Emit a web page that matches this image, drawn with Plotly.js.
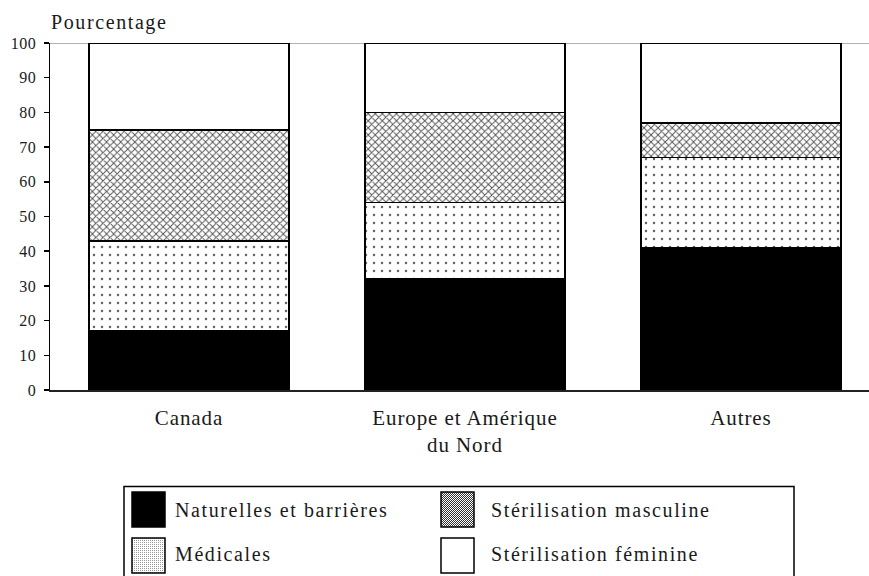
<!DOCTYPE html>
<html>
<head>
<meta charset="utf-8">
<script src="https://cdn.plot.ly/plotly-3.0.1.min.js"></script>
<style>
  html, body { margin: 0; padding: 0; background: #fff; }
  #chart { width: 869px; height: 576px; }
  text.annotation-text { letter-spacing: 1.6px; }
  .xtick text { letter-spacing: 0.9px; }
  .ytick text { letter-spacing: 0.5px; }
</style>
</head>
<body>
<div id="chart"></div>
<script>
// ---- data ----
const categories = ["Canada", "Europe et Amérique<br>du Nord", "Autres"];
const naturelles = [17, 32, 41];
const medicales = [26, 22, 26];
const sterMasculine = [32, 26, 10];
const sterFeminine = [25, 20, 23];
const seriesNames = ["Naturelles et barrières", "Médicales", "Stérilisation masculine", "Stérilisation féminine"];
const yTicks = [0, 10, 20, 30, 40, 50, 60, 70, 80, 90, 100];

// ---- styling helpers ----
const FONT = 'Liberation Serif, serif';
const INK = '#1a1a1a';
const W = 869, H = 576, ML = 50, MR = 0, MT = 43, MB = 186;
const PW = W - ML - MR, PH = H - MT - MB;
const px = x => (x - ML) / PW;          // pixel x -> paper
const py = y => (H - MB - y) / PH;      // pixel y -> paper

const line = { color: '#000', width: 1.5 };
const traces = [
  { name: seriesNames[0], y: naturelles,
    marker: { color: '#000', line: line } },
  { name: seriesNames[1], y: medicales,
    marker: { color: '#fff', line: line,
      pattern: { shape: '.', size: 8, solidity: 0.08, fgcolor: '#666', bgcolor: '#fff', fillmode: 'replace' } } },
  { name: seriesNames[2], y: sterMasculine,
    marker: { color: '#fff', line: line,
      pattern: { shape: 'x', size: 5, solidity: 0.35, fgcolor: '#555', bgcolor: '#fff', fillmode: 'replace' } } },
  { name: seriesNames[3], y: sterFeminine,
    marker: { color: '#fff', line: line } }
].map(t => Object.assign({ type: 'bar', x: categories, width: 0.725, hoverinfo: 'skip', showlegend: false }, t));

// legend swatch textures (svg)
function svgURI(body, w, h) {
  return 'data:image/svg+xml;charset=utf-8,' + encodeURIComponent(
    '<svg xmlns="http://www.w3.org/2000/svg" width="' + w + '" height="' + h + '" viewBox="0 0 ' + w + ' ' + h + '" shape-rendering="crispEdges">' + body + '</svg>');
}
const sw = 33, sh = 35;
const mascTex = svgURI('<defs><pattern id="p" width="2" height="2" patternUnits="userSpaceOnUse"><rect width="2" height="2" fill="#fff"/><rect x="0" y="0" width="1" height="1" fill="#333"/><rect x="1" y="1" width="1" height="1" fill="#333"/></pattern></defs><rect width="' + sw + '" height="' + sh + '" fill="url(#p)"/>', sw, sh);
const medTex = svgURI('<defs><pattern id="p" width="2" height="2" patternUnits="userSpaceOnUse"><rect width="2" height="2" fill="#fff"/><rect x="0" y="0" width="1" height="1" fill="#999"/></pattern></defs><rect width="' + sw + '" height="' + sh + '" fill="url(#p)"/>', sw, sh);

// legend entries (row/col layout)
const legendItems = [
  { label: seriesNames[0], col: 0, row: 0, fill: '#000', tex: null },
  { label: seriesNames[2], col: 1, row: 0, fill: '#fff', tex: mascTex },
  { label: seriesNames[1], col: 0, row: 1, fill: '#fff', tex: medTex },
  { label: seriesNames[3], col: 1, row: 1, fill: '#fff', tex: null }
];
const colSwatchX = [132, 441], colTextX = [173, 489], rowTop = [492, 538], rowMid = [510, 554];

const shapes = [
  { type: 'line', xref: 'paper', yref: 'y', x0: 0, x1: 1, y0: 100, y1: 100,
    line: { color: '#999', width: 1.5 }, layer: 'below' },
  { type: 'rect', xref: 'paper', yref: 'paper', x0: px(124), x1: px(794), y0: py(486.5), y1: py(580),
    line: { color: '#000', width: 1.5 }, fillcolor: '#fff', layer: 'below' }
];
const images = [];
const annotations = [
  { text: 'Pourcentage', xref: 'paper', yref: 'paper', x: px(49), y: py(22), xanchor: 'left', yanchor: 'middle',
    showarrow: false, font: { family: FONT, size: 20, color: INK } }
];
legendItems.forEach(it => {
  const x0 = colSwatchX[it.col], y0 = rowTop[it.row];
  shapes.push({ type: 'rect', xref: 'paper', yref: 'paper', x0: px(x0), x1: px(x0 + sw), y0: py(y0), y1: py(y0 + sh),
    line: { color: '#000', width: 1.5 }, fillcolor: it.tex ? 'rgba(0,0,0,0)' : it.fill, layer: 'above' });
  if (it.tex) images.push({ source: it.tex, xref: 'paper', yref: 'paper', x: px(x0), y: py(y0),
    sizex: sw / PW, sizey: sh / PH, xanchor: 'left', yanchor: 'top', sizing: 'stretch', layer: 'above' });
  annotations.push({ text: it.label, xref: 'paper', yref: 'paper', x: px(colTextX[it.col]), y: py(rowMid[it.row]),
    xanchor: 'left', yanchor: 'middle', showarrow: false, font: { family: FONT, size: 20, color: INK } });
});

const layout = {
  width: W, height: H,
  margin: { l: ML, r: MR, t: MT, b: MB, pad: 0 },
  paper_bgcolor: '#fff', plot_bgcolor: '#fff',
  barmode: 'stack', bargap: 0,
  showlegend: false,
  font: { family: FONT, color: INK },
  xaxis: {
    type: 'category', range: [-0.5036, 2.464], fixedrange: true,
    showline: true, linecolor: '#222', linewidth: 1.5, ticks: '', showgrid: false, zeroline: false,
    tickfont: { family: FONT, size: 21, color: INK }, ticklabelstandoff: 8
  },
  yaxis: {
    range: [0, 100], tickvals: yTicks, fixedrange: true,
    showline: true, linecolor: '#000', linewidth: 1.5, ticks: 'outside', ticklen: 5, tickwidth: 1.5, tickcolor: '#000',
    showgrid: false, zeroline: false,
    tickfont: { family: FONT, size: 16, color: INK }, ticklabelstandoff: 4
  },
  shapes: shapes, images: images, annotations: annotations
};

Plotly.newPlot('chart', traces, layout, { staticPlot: true, displayModeBar: false });
</script>
</body>
</html>
